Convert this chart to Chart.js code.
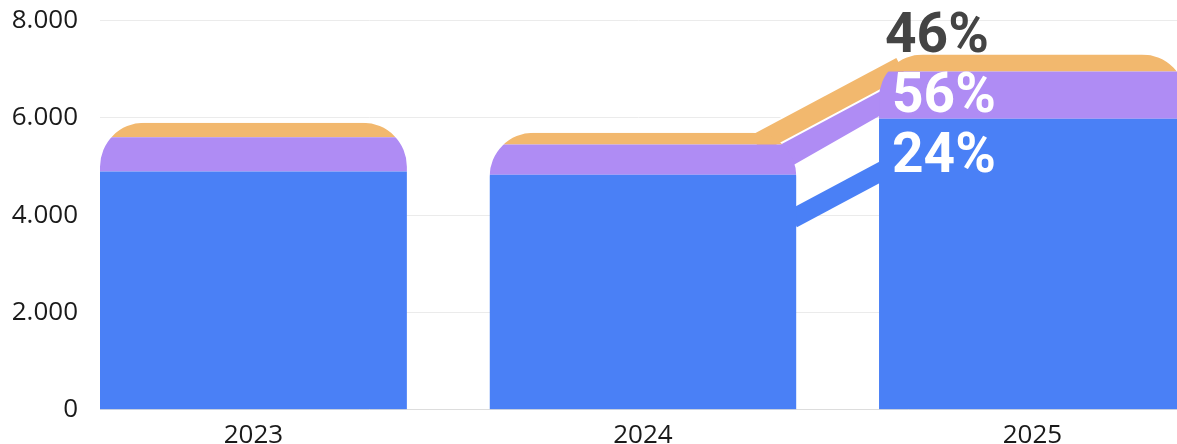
<!DOCTYPE html>
<html>
<head>
<meta charset="utf-8">
<script src="https://cdn.jsdelivr.net/npm/chart.js@4.4.1/dist/chart.umd.min.js"></script>
<style>
  html, body { margin: 0; padding: 0; background: #fff; overflow: hidden; }
  canvas { display: block; }
</style>
</head>
<body>
<canvas id="chart" width="1177" height="461"></canvas>
<script>
const years = ["2023", "2024", "2025"];
const blueValues = [4900, 4830, 5980];
const purpleValues = [700, 625, 975];
const orangeValues = [300, 240, 350];
const yTicks = [0, 2000, 4000, 6000, 8000];

// growth bands 2024 -> 2025 (blue, purple, orange), centre value at each bar edge
const bandStart = [3970, 5360, 5905];
const bandEnd = [4875, 6330, 6810];

const COLORS = {
  blue: "#4a80f6",
  purple: "#af8cf4",
  orange: "#f2b86e",
  label: "#444444",
  tick: "#1a1a1a",
  grid: "#ebebeb"
};

const RADIUS = 44;

function fmt(v) {
  return String(v).replace(/\B(?=(\d{3})+(?!\d))/g, ".");
}

function growth(a, b) {
  return Math.round((b / a - 1) * 100) + "%";
}

function stackRects(chart) {
  const metas = chart.data.datasets.map((d, i) => chart.getDatasetMeta(i));
  const base = chart.scales.y.getPixelForValue(0);
  return metas[metas.length - 1].data.map((bar, i) => {
    const p = bar.getProps(["x", "y", "width"], true);
    return {
      left: p.x - p.width / 2,
      right: p.x + p.width / 2,
      top: p.y,
      bottom: base,
      segTops: metas.map(m => m.data[i].getProps(["y"], true).y)
    };
  });
}

function roundTop(ctx, r, rad) {
  ctx.moveTo(r.left, r.bottom);
  ctx.lineTo(r.left, r.top + rad);
  ctx.arcTo(r.left, r.top, r.left + rad, r.top, rad);
  ctx.lineTo(r.right - rad, r.top);
  ctx.arcTo(r.right, r.top, r.right, r.top + rad, rad);
  ctx.lineTo(r.right, r.bottom);
  ctx.closePath();
}

const bandStyle = [
  { color: COLORS.blue, width: 19, extL: 4, extR: 8 },
  { color: COLORS.purple, width: 25, extL: 10, extR: 12 },
  { color: COLORS.orange, width: 20, extL: 40, extR: 22, outline: 2 }
];

const stackPlugin = {
  id: "stackShape",
  beforeDatasetsDraw(chart) {
    const ctx = chart.ctx;
    const y = chart.scales.y;
    const rects = stackRects(chart);
    const from = rects[1], to = rects[2];

    ctx.save();
    ctx.lineCap = "butt";
    bandStyle.forEach((s, i) => {
      const x0 = from.right, y0 = y.getPixelForValue(bandStart[i]);
      const x1 = to.left, y1 = y.getPixelForValue(bandEnd[i]);
      const m = (y1 - y0) / (x1 - x0);
      const ax = x0 - s.extL, ay = y0 - m * s.extL;
      const bx = x1 + s.extR, by = y1 + m * s.extR;
      if (s.outline) {
        ctx.strokeStyle = "#fff";
        ctx.lineWidth = s.width + s.outline * 2;
        ctx.beginPath(); ctx.moveTo(ax, ay); ctx.lineTo(bx, by); ctx.stroke();
      }
      ctx.strokeStyle = s.color;
      ctx.lineWidth = s.width;
      ctx.beginPath(); ctx.moveTo(ax, ay); ctx.lineTo(bx, by); ctx.stroke();
    });
    ctx.restore();

    ctx.save();
    ctx.beginPath();
    rects.forEach(r => roundTop(ctx, r, RADIUS));
    ctx.clip();
  },
  afterDatasetsDraw(chart) {
    const ctx = chart.ctx;
    ctx.restore();

    const r = stackRects(chart)[2];
    const labels = [
      { text: growth(blueValues[1], blueValues[2]), color: "#fff", dx: 13, y: r.segTops[0] + 53 },
      { text: growth(purpleValues[1], purpleValues[2]), color: "#fff", dx: 13, y: r.segTops[0] - 7 },
      { text: growth(orangeValues[1], orangeValues[2]), color: COLORS.label, dx: 6, y: r.top - 2 }
    ];
    ctx.save();
    ctx.font = "bold 55px Roboto";
    ctx.textAlign = "left";
    ctx.textBaseline = "alphabetic";
    labels.forEach(l => {
      ctx.fillStyle = l.color;
      ctx.fillText(l.text, r.left + l.dx, l.y);
    });
    ctx.restore();
  }
};

const tickFont = { family: "'Open Sans', 'Noto Sans', sans-serif", size: 26 };

new Chart(document.getElementById("chart"), {
  type: "bar",
  data: {
    datasets: [
      { data: blueValues.map((v, i) => ({ x: i, y: v })), backgroundColor: COLORS.blue },
      { data: purpleValues.map((v, i) => ({ x: i, y: v })), backgroundColor: COLORS.purple },
      { data: orangeValues.map((v, i) => ({ x: i, y: v })), backgroundColor: COLORS.orange }
    ]
  },
  plugins: [stackPlugin],
  options: {
    responsive: false,
    animation: false,
    layout: { padding: 0 },
    datasets: { bar: { barPercentage: 0.788, categoryPercentage: 1 } },
    scales: {
      x: {
        type: "linear",
        stacked: true,
        offset: false,
        min: -0.394,
        max: 2.371,
        afterBuildTicks: axis => { axis.ticks = years.map((_, i) => ({ value: i })); },
        ticks: {
          callback: v => years[v] ?? "",
          font: tickFont,
          color: COLORS.tick,
          padding: 10,
          maxRotation: 0
        },
        grid: { display: false, drawTicks: false, offset: false },
        border: { display: true, color: "#dddddd" }
      },
      y: {
        stacked: true,
        min: 0,
        max: 8000,
        afterBuildTicks: axis => { axis.ticks = yTicks.map(v => ({ value: v })); },
        afterFit: axis => { axis.width = 100; },
        ticks: {
          callback: v => fmt(v),
          font: tickFont,
          color: COLORS.tick,
          padding: 5
        },
        grid: { color: COLORS.grid, drawTicks: true, tickLength: 17, tickColor: "rgba(0,0,0,0)" },
        border: { display: false }
      }
    },
    plugins: {
      legend: { display: false },
      tooltip: { enabled: false }
    }
  }
});
</script>
</body>
</html>
